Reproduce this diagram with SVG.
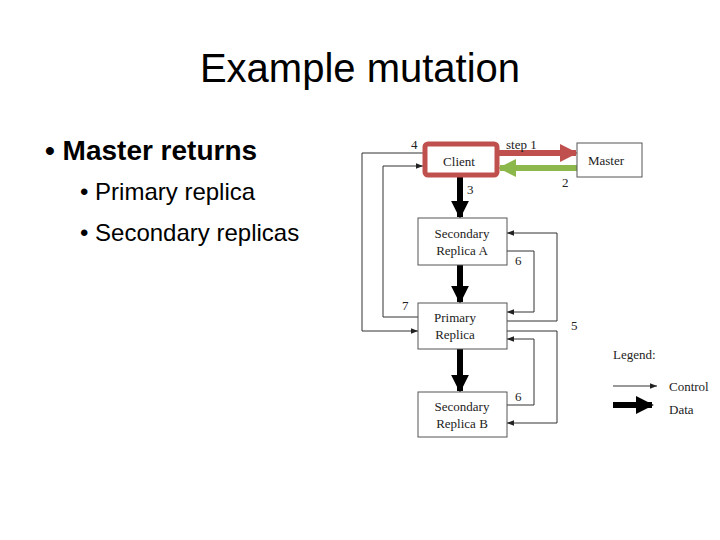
<svg xmlns="http://www.w3.org/2000/svg" width="720" height="540" viewBox="0 0 720 540">
<defs>
<style>
.s{font-family:"Liberation Sans",Arial,sans-serif;fill:#000}
.t{font-family:"Liberation Serif","Times New Roman",serif;font-size:13px;fill:#222}
.box{fill:#fff;stroke:#555;stroke-width:1}
.c{fill:none;stroke:#333;stroke-width:1}
.d{stroke:#000;stroke-width:6}
</style>
<marker id="a" viewBox="0 0 10 10" refX="10" refY="5" markerWidth="7" markerHeight="7" markerUnits="userSpaceOnUse" orient="auto"><path d="M0,1L10,5L0,9z" fill="#222"/></marker>
<marker id="D" viewBox="0 0 10 10" refX="9" refY="5" markerWidth="3" markerHeight="3" orient="auto"><path d="M0,0L10,5L0,10z" fill="#000"/></marker>
<marker id="R" viewBox="0 0 10 10" refX="9" refY="5" markerWidth="3" markerHeight="3" orient="auto"><path d="M0,0L10,5L0,10z" fill="#c0504d"/></marker>
<marker id="G" viewBox="0 0 10 10" refX="9" refY="5" markerWidth="3" markerHeight="3" orient="auto"><path d="M0,0L10,5L0,10z" fill="#8cb74a"/></marker>
</defs>
<rect width="720" height="540" fill="#fff"/>
<text class="s" x="360" y="82" font-size="40" text-anchor="middle">Example mutation</text>
<text class="s" x="45" y="160" font-size="28" font-weight="bold">• Master returns</text>
<text class="s" x="80" y="200" font-size="24">• Primary replica</text>
<text class="s" x="80" y="241" font-size="24">• Secondary replicas</text>
<g id="connectors">
<line class="d" x1="460" y1="177" x2="460" y2="217" marker-end="url(#D)"/>
<line class="d" x1="460" y1="265" x2="460" y2="302" marker-end="url(#D)"/>
<line class="d" x1="460" y1="349" x2="460" y2="391" marker-end="url(#D)"/>
<line x1="498" y1="153" x2="576" y2="153" stroke="#c0504d" stroke-width="6" marker-end="url(#R)"/>
<line x1="577" y1="168" x2="500" y2="168" stroke="#8cb74a" stroke-width="6" marker-end="url(#G)"/>
<path class="c" d="M423,153H362V331H418" marker-end="url(#a)"/>
<path class="c" d="M418,317H383V166H423" marker-end="url(#a)"/>
<path class="c" d="M507,251H534V312H507" marker-end="url(#a)"/>
<path class="c" d="M507,321H557V233H507" marker-end="url(#a)"/>
<path class="c" d="M507,331H557V423H507" marker-end="url(#a)"/>
<path class="c" d="M507,405H534V339H507" marker-end="url(#a)"/>
<line class="c" x1="613" y1="386" x2="657" y2="386" marker-end="url(#a)"/>
<line class="d" x1="613" y1="405" x2="652" y2="405" marker-end="url(#D)"/>
</g>
<g id="client"><rect x="425" y="144" width="72" height="31" rx="3" fill="#fff" stroke="#c0504d" stroke-width="5"/><text class="t" x="459" y="166" text-anchor="middle">Client</text></g>
<g id="master"><rect class="box" x="577" y="143" width="65" height="34"/><text class="t" x="606" y="165" text-anchor="middle">Master</text></g>
<g id="secA"><rect class="box" x="418" y="218" width="89" height="47"/><text class="t" x="462" y="238" text-anchor="middle">Secondary</text><text class="t" x="462" y="255" text-anchor="middle">Replica A</text></g>
<g id="primary"><rect class="box" x="418" y="303" width="89" height="46"/><text class="t" x="455" y="322" text-anchor="middle">Primary</text><text class="t" x="455" y="339" text-anchor="middle">Replica</text></g>
<g id="secB"><rect class="box" x="418" y="392" width="89" height="45"/><text class="t" x="462" y="411" text-anchor="middle">Secondary</text><text class="t" x="462" y="428" text-anchor="middle">Replica B</text></g>
<g id="labels">
<text class="t" x="411" y="149">4</text><text class="t" x="506" y="149">step 1</text><text class="t" x="562" y="187">2</text>
<text class="t" x="467" y="194">3</text><text class="t" x="515" y="265">6</text><text class="t" x="402" y="310">7</text>
<text class="t" x="571" y="330">5</text><text class="t" x="515" y="401">6</text>
<text class="t" x="613" y="359">Legend:</text><text class="t" x="669" y="391">Control</text><text class="t" x="669" y="414">Data</text>
</g>
</svg>
